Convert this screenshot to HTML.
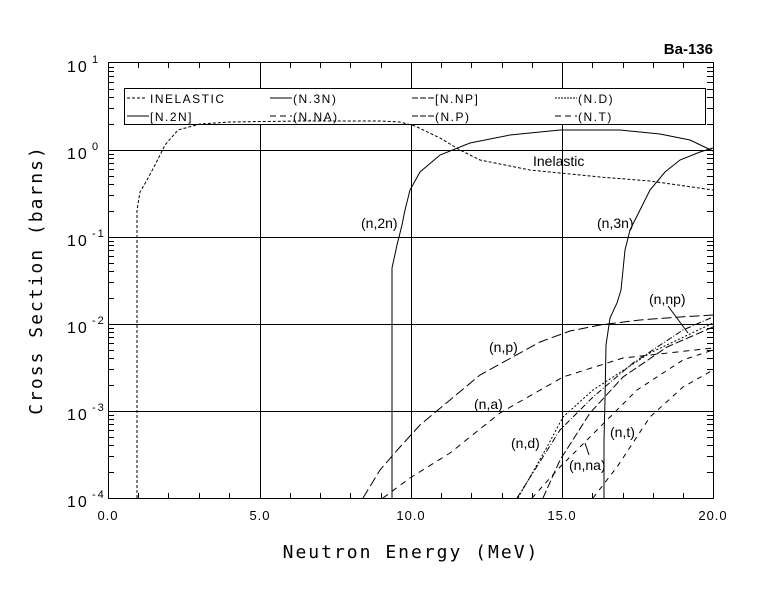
<!DOCTYPE html>
<html><head><meta charset="utf-8"><style>
body{margin:0;background:#fff}
svg{display:block}
text{font-family:"Liberation Sans",sans-serif;fill:#000}
</style></head><body>
<svg width="779" height="590" viewBox="0 0 779 590" xmlns="http://www.w3.org/2000/svg">
<rect width="779" height="590" fill="#fff"/>
<g stroke="#000" stroke-width="1" fill="none">
<rect x="108.5" y="62.5" width="605" height="436"/>
<path d="M260.5 62V499M411.5 62V499M562.5 62V499"/>
<path d="M108 150.5H713M108 237.5H713M108 324.5H713M108 411.5H713"/>
<path d="M138.5 499v-6M168.5 499v-6M199.5 499v-6M229.5 499v-6M290.5 499v-6M320.5 499v-6M350.5 499v-6M381.5 499v-6M441.5 499v-6M471.5 499v-6M502.5 499v-6M532.5 499v-6M592.5 499v-6M623.5 499v-6M653.5 499v-6M683.5 499v-6"/>
<path d="M138.5 62v6M168.5 62v6M199.5 62v6M229.5 62v6M290.5 62v6M320.5 62v6M350.5 62v6M381.5 62v6M441.5 62v6M471.5 62v6M502.5 62v6M532.5 62v6M592.5 62v6M623.5 62v6M653.5 62v6M683.5 62v6"/>
<path d="M108 124.5h6M108 108.5h6M108 97.5h6M108 89.5h6M108 82.5h6M108 76.5h6M108 71.5h6M108 67.5h6
M108 211.5h6M108 195.5h6M108 184.5h6M108 176.5h6M108 169.5h6M108 163.5h6M108 158.5h6M108 154.5h6
M108 298.5h6M108 282.5h6M108 271.5h6M108 263.5h6M108 256.5h6M108 250.5h6M108 245.5h6M108 241.5h6
M108 385.5h6M108 369.5h6M108 358.5h6M108 350.5h6M108 343.5h6M108 337.5h6M108 332.5h6M108 328.5h6
M108 472.5h6M108 456.5h6M108 445.5h6M108 437.5h6M108 430.5h6M108 424.5h6M108 419.5h6M108 415.5h6"/>
<path d="M707 124.5h6M707 108.5h6M707 97.5h6M707 89.5h6M707 82.5h6M707 76.5h6M707 71.5h6M707 67.5h6
M707 211.5h6M707 195.5h6M707 184.5h6M707 176.5h6M707 169.5h6M707 163.5h6M707 158.5h6M707 154.5h6
M707 298.5h6M707 282.5h6M707 271.5h6M707 263.5h6M707 256.5h6M707 250.5h6M707 245.5h6M707 241.5h6
M707 385.5h6M707 369.5h6M707 358.5h6M707 350.5h6M707 343.5h6M707 337.5h6M707 332.5h6M707 328.5h6
M707 472.5h6M707 456.5h6M707 445.5h6M707 437.5h6M707 430.5h6M707 424.5h6M707 419.5h6M707 415.5h6"/>
</g>
<rect x="124.5" y="88.5" width="581" height="36" fill="#fff" stroke="#000"/>
<g stroke="#000" fill="none">
<path d="M127 98h20" stroke-dasharray="3,2"/>
<path d="M270 98h22"/>
<path d="M412 98h22" stroke-dasharray="6,2"/>
<path d="M555 98h22" stroke-dasharray="2,1"/>
<path d="M127 116h22"/>
<path d="M270 116h22" stroke-dasharray="6,4"/>
<path d="M412 116h22" stroke-dasharray="6,2"/>
<path d="M555 116h22" stroke-dasharray="6,4"/>
</g>
<g style="font-family:'DejaVu Sans Mono','Liberation Mono',monospace;font-size:12px" letter-spacing="1.5">
<text x="150" y="103">INELASTIC</text><text x="293" y="103">(N.3N)</text><text x="435" y="103">[N.NP]</text><text x="578" y="103">(N.D)</text>
<text x="150" y="121">[N.2N]</text><text x="293" y="121">(N.NA)</text><text x="435" y="121">(N.P)</text><text x="578" y="121">(N.T)</text>
</g>
<g fill="none" stroke="#000" stroke-width="1">
<polyline stroke-dasharray="3,2" points="137,498 137,210 140,192 147,180 155,165 165,145 178,130 200,124 230,122 300,121 380,121 400,122 415,126 440,138 460,150 480,160 500,164 530,170 560,173 600,177 650,181 713,190"/>
<polyline points="392,498 392,268 397,245 402,225 405,210 410,190 420,172 440,155 470,143 510,135 560,130 620,130 660,134 690,140 713,151"/>
<polyline points="604,498 604,440 605,400 606,345 610,318 617,303 621,290 623,270 625,250 630,230 640,210 650,190 665,172 680,160 700,152 713,148"/>
<polyline stroke-dasharray="10,4" points="363,498 380,470 400,447 420,425 450,400 480,375 500,364 540,342 570,331 600,325 640,320 680,317 713,315"/>
<polyline stroke-dasharray="6,5" points="383,498 410,478 450,453 500,413 563,377 623,358 713,348"/>
<polyline stroke-dasharray="6,2,1,2" points="517,498 560,430 593,397 633,363 683,330 713,317"/>
<polyline stroke-dasharray="2,2" points="518,498 547,447 563,417 593,390 650,353 713,323"/>
<polyline stroke-dasharray="8,3" points="543,498 560,460 590,413 623,377 667,347 713,327"/>
<polyline stroke-dasharray="5,5" points="532,498 560,467 597,430 637,390 683,360 713,350"/>
<polyline stroke-dasharray="5,5" points="593,498 617,467 650,417 683,387 713,370"/>
<path d="M668 306L688 333M585 443L589 455"/>
</g>
<g style="font-size:14px">
<text x="533" y="166">Inelastic</text>
<text x="361" y="228">(n,2n)</text>
<text x="597" y="228">(n,3n)</text>
<text x="649" y="304">(n,np)</text>
<text x="489" y="352">(n,p)</text>
<text x="474" y="409">(n,a)</text>
<text x="511" y="448">(n,d)</text>
<text x="610" y="437">(n,t)</text>
<text x="569" y="470">(n,na)</text>
</g>
<text x="713" y="54" text-anchor="end" style="font-weight:bold;font-size:15px">Ba-136</text>
<g style="font-family:'DejaVu Sans Mono','Liberation Mono',monospace;font-size:13px" text-anchor="middle" letter-spacing="1">
<text x="108" y="520">0.0</text><text x="260" y="520">5.0</text><text x="411" y="520">10.0</text><text x="562" y="520">15.0</text><text x="713" y="520">20.0</text>
</g>
<g style="font-family:'DejaVu Sans Mono','Liberation Mono',monospace;font-size:16px" letter-spacing="2">
<text x="67" y="72">10</text><text x="92" y="63" style="font-size:11px">1</text>
<text x="67" y="159">10</text><text x="92" y="150" style="font-size:11px">0</text>
<text x="67" y="246">10</text><text x="92" y="237" style="font-size:11px">-1</text>
<text x="67" y="333">10</text><text x="92" y="324" style="font-size:11px">-2</text>
<text x="67" y="420">10</text><text x="92" y="411" style="font-size:11px">-3</text>
<text x="67" y="507">10</text><text x="92" y="498" style="font-size:11px">-4</text>
</g>
<text x="411" y="558" text-anchor="middle" style="font-family:'DejaVu Sans Mono','Liberation Mono',monospace;font-size:18px" letter-spacing="2">Neutron Energy (MeV)</text>
<text transform="translate(42,280) rotate(-90)" text-anchor="middle" style="font-family:'DejaVu Sans Mono','Liberation Mono',monospace;font-size:18px" letter-spacing="2">Cross Section (barns)</text>
</svg>
</body></html>
